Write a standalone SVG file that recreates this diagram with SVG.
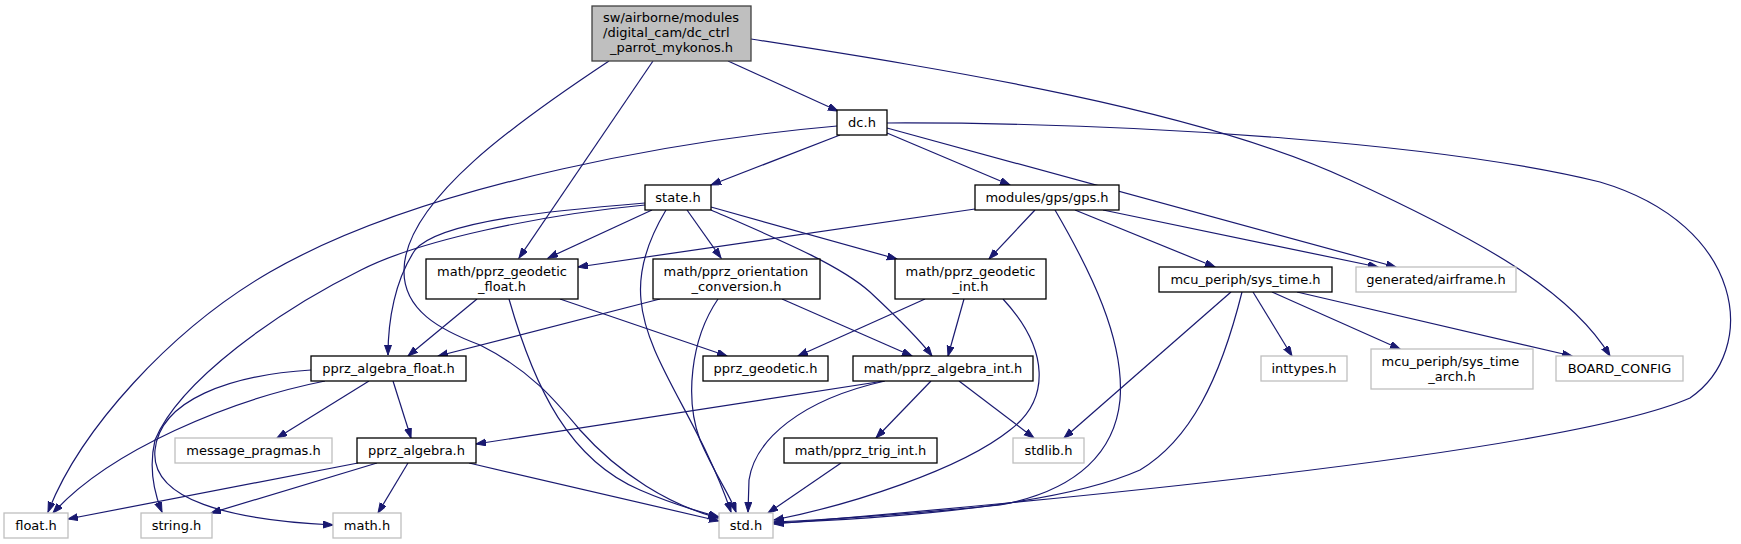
<svg xmlns="http://www.w3.org/2000/svg" width="1741" height="544" viewBox="0 0 1741 544">
<defs>
<style>
.n rect{fill:#fff;stroke:#000;stroke-width:1.3}
.g rect{fill:#fff;stroke:#bfbfbf;stroke-width:1.3}
.r rect{fill:#bfbfbf;stroke:#404040;stroke-width:1.3}
text{font-family:"DejaVu Sans","Liberation Sans",sans-serif;font-size:13px;fill:#000}
.c{text-anchor:middle}
#edges path{fill:none;stroke:#191970;stroke-width:1.2;marker-end:url(#ah)}
</style>
<marker id="ah" markerUnits="userSpaceOnUse" markerWidth="11" markerHeight="8" refX="10" refY="3.5" orient="auto">
<path d="M0,0 L10,3.5 L0,7 z" fill="#191970" stroke="#191970" stroke-width="1"/>
</marker>
</defs>
<rect width="1741" height="544" fill="#fff"/>
<g id="edges">
<path d="M609,61 C520,120 405,200 404,270 C403,310 440,330 480,345 C530,370 555,400 580,430 C620,475 670,505 718,518"/>
<path d="M653,61 L519,258"/>
<path d="M728,61 L838,111"/>
<path d="M751,39 C950,70 1200,110 1350,180 C1480,240 1570,290 1610,356"/>
<path d="M837,126 C700,138 430,180 270,272 C170,330 80,430 48,512"/>
<path d="M840,135 L711,185"/>
<path d="M887,133 L1010,185"/>
<path d="M887,128 L1396,267"/>
<path d="M887,123 C1150,122 1450,145 1600,182 C1745,225 1760,350 1690,398 C1560,455 1000,505 774,524"/>
<path d="M652,210 L548,258"/>
<path d="M687,210 L721,258"/>
<path d="M711,207 L897,259"/>
<path d="M711,210 C780,240 840,265 870,292 C900,320 920,340 932,356"/>
<path d="M666,210 C648,240 638,270 641,300 C646,360 700,420 731,512"/>
<path d="M645,203 C560,210 440,220 415,250 C395,280 388,320 388,355"/>
<path d="M645,205 C540,215 420,240 361,270 C280,310 180,380 155,440 C148,470 155,495 162,512"/>
<path d="M975,209 L578,267"/>
<path d="M1035,210 L989,259"/>
<path d="M1055,210 C1090,270 1125,340 1120,400 C1115,450 1080,490 1000,505 C900,515 820,520 774,522"/>
<path d="M1075,210 L1215,267"/>
<path d="M1103,210 L1378,267"/>
<path d="M477,299 L408,356"/>
<path d="M509,299 C535,390 570,460 640,490 C670,503 700,512 719,517"/>
<path d="M560,299 L727,356"/>
<path d="M660,299 L438,356"/>
<path d="M718,299 C690,340 685,400 700,440 C715,475 730,495 736,512"/>
<path d="M782,299 L912,356"/>
<path d="M925,299 L798,356"/>
<path d="M964,299 L948,356"/>
<path d="M1003,299 C1050,350 1050,400 1010,430 C960,470 850,505 774,520"/>
<path d="M1231,292 L1064,438"/>
<path d="M1242,292 C1220,380 1190,440 1140,470 C1050,510 850,520 774,523"/>
<path d="M1253,292 L1292,356"/>
<path d="M1272,292 L1400,349"/>
<path d="M1297,292 L1572,356"/>
<path d="M325,381 C230,400 110,450 53,513"/>
<path d="M311,370 C230,375 160,400 155,450 C150,500 230,520 333,525"/>
<path d="M369,381 L277,438"/>
<path d="M393,381 L411,438"/>
<path d="M884,381 L476,444"/>
<path d="M931,381 L876,438"/>
<path d="M959,381 L1034,438"/>
<path d="M885,381 C800,400 755,440 749,480 L748,512"/>
<path d="M358,463 L68,519"/>
<path d="M377,463 L211,513"/>
<path d="M408,463 L378,513"/>
<path d="M469,463 L719,521"/>
<path d="M841,463 L768,513"/>
</g>
<g id="root" class="r"><rect x="592" y="6" width="159" height="55"/><text x="603" y="21.5">sw/airborne/modules</text><text x="603" y="36.5">/digital_cam/dc_ctrl</text><text class="c" x="671.5" y="51.5">_parrot_mykonos.h</text></g>
<g id="dc" class="n"><rect x="837" y="110" width="50" height="25"/><text class="c" x="862" y="127">dc.h</text></g>
<g id="state" class="n"><rect x="645" y="185" width="66" height="25"/><text class="c" x="678" y="202">state.h</text></g>
<g id="gps" class="n"><rect x="975" y="185" width="144" height="25"/><text class="c" x="1047" y="202">modules/gps/gps.h</text></g>
<g id="geodetic_float" class="n"><rect x="426" y="259" width="152" height="40"/><text class="c" x="502" y="275.5">math/pprz_geodetic</text><text class="c" x="502" y="290.5">_float.h</text></g>
<g id="orientation" class="n"><rect x="653" y="259" width="167" height="40"/><text x="663.5" y="275.5">math/pprz_orientation</text><text class="c" x="736.5" y="290.5">_conversion.h</text></g>
<g id="geodetic_int" class="n"><rect x="895" y="259" width="151" height="40"/><text class="c" x="970.5" y="275.5">math/pprz_geodetic</text><text class="c" x="970.5" y="290.5">_int.h</text></g>
<g id="sys_time" class="n"><rect x="1159" y="267" width="173" height="25"/><text class="c" x="1245.5" y="284">mcu_periph/sys_time.h</text></g>
<g id="airframe" class="g"><rect x="1356" y="267" width="160" height="25"/><text class="c" x="1436" y="284">generated/airframe.h</text></g>
<g id="algebra_float" class="n"><rect x="311" y="356" width="155" height="25"/><text class="c" x="388.5" y="373">pprz_algebra_float.h</text></g>
<g id="geodetic" class="n"><rect x="703" y="356" width="125" height="25"/><text class="c" x="765.5" y="373">pprz_geodetic.h</text></g>
<g id="algebra_int" class="n"><rect x="853" y="356" width="180" height="25"/><text class="c" x="943" y="373">math/pprz_algebra_int.h</text></g>
<g id="inttypes" class="g"><rect x="1261" y="356" width="86" height="25"/><text class="c" x="1304" y="373">inttypes.h</text></g>
<g id="sys_time_arch" class="g"><rect x="1371" y="349" width="162" height="40"/><text x="1381.5" y="365.5">mcu_periph/sys_time</text><text class="c" x="1452" y="380.5">_arch.h</text></g>
<g id="board_config" class="g"><rect x="1556" y="356" width="127" height="25"/><text class="c" x="1619.5" y="373">BOARD_CONFIG</text></g>
<g id="message_pragmas" class="g"><rect x="175" y="438" width="157" height="25"/><text class="c" x="253.5" y="455">message_pragmas.h</text></g>
<g id="pprz_algebra" class="n"><rect x="357" y="438" width="119" height="25"/><text class="c" x="416.5" y="455">pprz_algebra.h</text></g>
<g id="trig_int" class="n"><rect x="784" y="438" width="153" height="25"/><text class="c" x="860.5" y="455">math/pprz_trig_int.h</text></g>
<g id="stdlib" class="g"><rect x="1013" y="438" width="71" height="25"/><text class="c" x="1048.5" y="455">stdlib.h</text></g>
<g id="float" class="g"><rect x="4" y="513" width="64" height="25"/><text class="c" x="36" y="530">float.h</text></g>
<g id="string" class="g"><rect x="141" y="513" width="71" height="25"/><text class="c" x="176.5" y="530">string.h</text></g>
<g id="math" class="g"><rect x="333" y="513" width="68" height="25"/><text class="c" x="367" y="530">math.h</text></g>
<g id="std" class="g"><rect x="719" y="513" width="54" height="25"/><text class="c" x="746" y="530">std.h</text></g>
</svg>
